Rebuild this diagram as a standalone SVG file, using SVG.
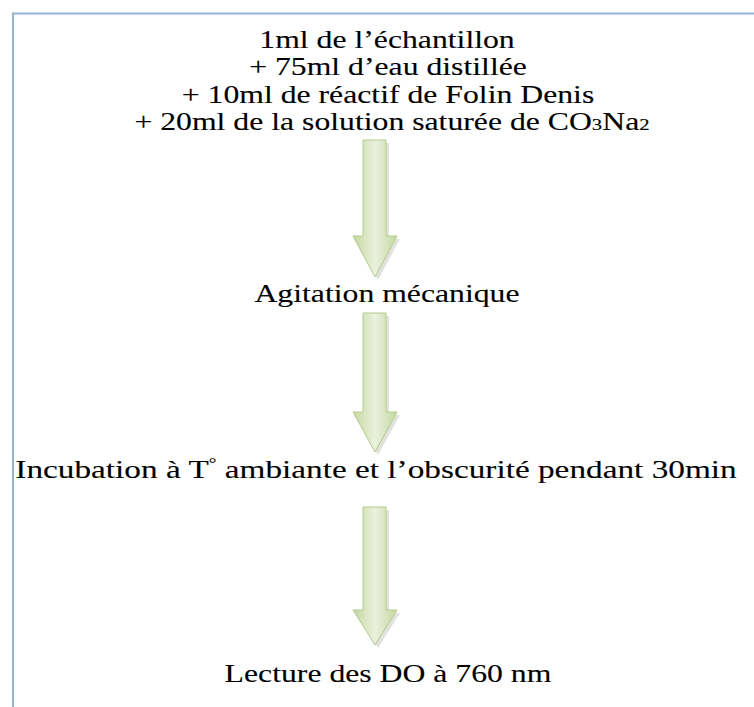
<svg xmlns="http://www.w3.org/2000/svg" width="754" height="707" viewBox="0 0 754 707">
<style>
  .t { font-family: "Liberation Serif", "Times New Roman", serif; font-size: 26px; fill: #000; stroke: #000; stroke-width: 0.12; text-anchor: middle; }
  .arrow { fill: url(#g); stroke: #b3cc8c; stroke-width: 1; }
  .shadow { fill: #9aa08f; opacity: 0.3; }
</style>
<defs>
  <linearGradient id="g" x1="0" y1="0" x2="1" y2="0">
    <stop offset="0" stop-color="#c4d79f"/>
    <stop offset="0.5" stop-color="#ebf1de"/>
    <stop offset="1" stop-color="#c4d79f"/>
  </linearGradient>
</defs>
<rect x="0" y="0" width="754" height="707" fill="#fff"/>
<rect x="13" y="13.5" width="800" height="800" fill="none" stroke="#95b3d7" stroke-width="2"/>

<g id="connectors">
  <g id="arrow1">
    <path class="shadow" d="M366,143 H389 V239 H400 L378,280 L356,239 H366 Z"/>
    <path class="arrow" d="M363,140 H386 V236 H397 L375,277 L353,236 H363 Z"/>
  </g>
  <g id="arrow2">
    <path class="shadow" d="M366,316 H389 V415 H400 L378,455 L356,415 H366 Z"/>
    <path class="arrow" d="M363,313 H386 V412 H397 L375,452 L353,412 H363 Z"/>
  </g>
  <g id="arrow3">
    <path class="shadow" d="M366,510 H389 V613 H400 L378,648 L356,613 H366 Z"/>
    <path class="arrow" d="M363,507 H386 V610 H397 L375,645 L353,610 H363 Z"/>
  </g>
</g>

<g id="node1">
  <text class="t" transform="translate(387,48) scale(1.22,1)">1ml de l’échantillon</text>
  <text class="t" transform="translate(388,75) scale(1.22,1)">+ 75ml d’eau distillée</text>
  <text class="t" transform="translate(388,103) scale(1.22,1)">+ 10ml de réactif de Folin Denis</text>
  <text class="t" transform="translate(392,130) scale(1.22,1)">+ 20ml de la solution saturée de CO<tspan font-size="17">3</tspan>Na<tspan font-size="17">2</tspan></text>
</g>
<g id="node2">
  <text class="t" transform="translate(387,302) scale(1.22,1)">Agitation mécanique</text>
</g>
<g id="node3">
  <text class="t" transform="translate(376,478) scale(1.28,1)">Incubation à T<tspan font-size="15" dy="-10">°</tspan><tspan dy="10"> ambiante et l’obscurité pendant 30min</tspan></text>
</g>
<g id="node4">
  <text class="t" transform="translate(388,682) scale(1.22,1)">Lecture des DO à 760 nm</text>
</g>
</svg>
